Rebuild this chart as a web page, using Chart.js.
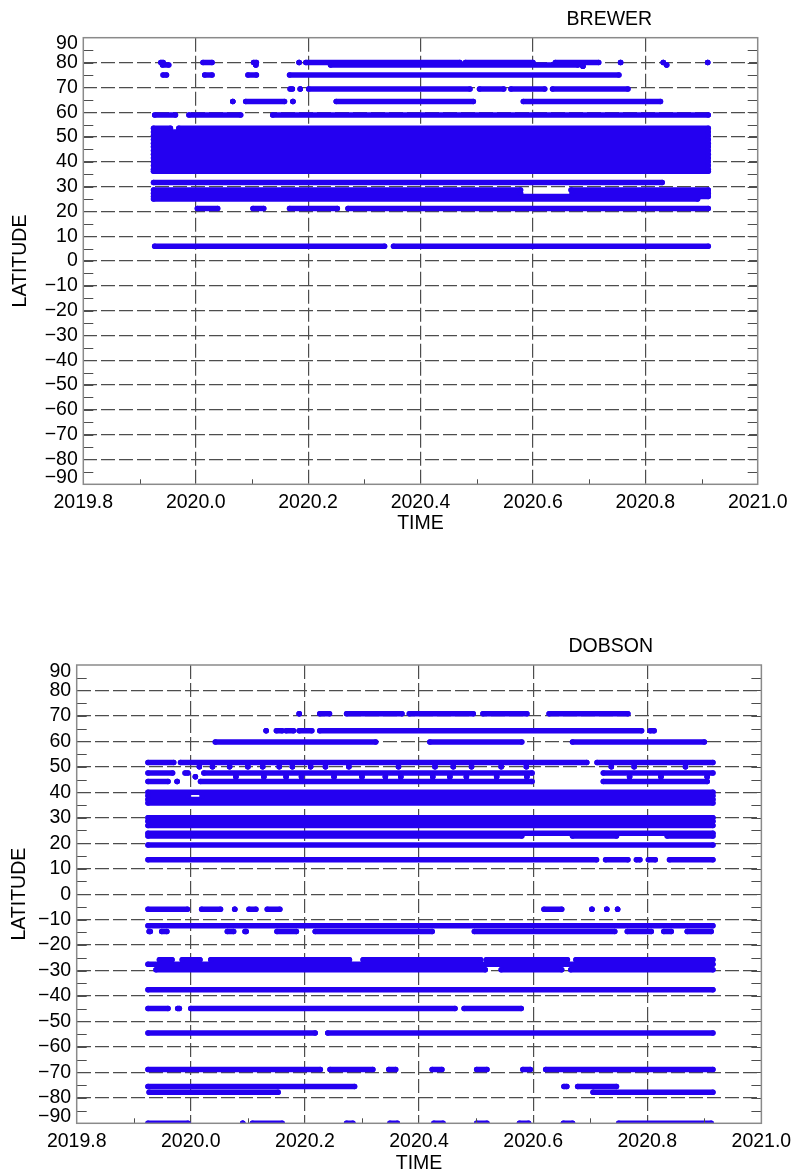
<!DOCTYPE html>
<html>
<head>
<meta charset="utf-8">
<script src="https://cdn.jsdelivr.net/npm/chart.js@4/dist/chart.umd.min.js"></script>
<style>
  html, body { margin: 0; padding: 0; background: #fff; }
  body { width: 798px; height: 1172px; position: relative; overflow: hidden; }
  canvas { position: absolute; left: 0; }
  #brewer { top: 0; }
  #dobson { top: 600px; }
</style>
</head>
<body>
<canvas id="brewer" width="798" height="560"></canvas>
<canvas id="dobson" width="798" height="572"></canvas>
<script>
// ---- axes ----
const timeTicks = [2019.8, 2020.0, 2020.2, 2020.4, 2020.6, 2020.8, 2021.0];
const timeMinorTicks = [2019.9, 2020.1, 2020.3, 2020.5, 2020.7, 2020.9];
const latitudeTicks = [90, 80, 70, 60, 50, 40, 30, 20, 10, 0, -10, -20, -30, -40, -50, -60, -70, -80, -90];
const latitudeMinorTicks = [85, 75, 65, 55, 45, 35, 25, 15, 5, -5, -15, -25, -35, -45, -55, -65, -75, -85];

// ---- Brewer stations: latitude and observing periods [start, end] (decimal year) ----
const brewerLatitudes = [
  80, 79, 78.5, 75, 69.3, 64.3, 58.8,
  53.5, 52, 50.5, 49, 47.5, 46, 44.5, 43, 41.5, 40, 38.5, 37, 36.2,
  31.6, 28.6, 27.3, 26, 25, 21.2, 5.9
];
const brewerSpans = [
  [[2019.938, 2019.942], [2020.013, 2020.029], [2020.103, 2020.108], [2020.184, 2020.184], [2020.196, 2020.47], [2020.48, 2020.6], [2020.64, 2020.717], [2020.756, 2020.756], [2020.832, 2020.832], [2020.911, 2020.911]],
  [[2019.941, 2019.952], [2020.107, 2020.107], [2020.24, 2020.68], [2020.838, 2020.838]],
  [[2020.689, 2020.689]],
  [[2019.942, 2019.948], [2020.016, 2020.029], [2020.093, 2020.108], [2020.167, 2020.753]],
  [[2020.168, 2020.172], [2020.186, 2020.186], [2020.201, 2020.488], [2020.505, 2020.548], [2020.561, 2020.621], [2020.635, 2020.769]],
  [[2020.066, 2020.066], [2020.089, 2020.158], [2020.173, 2020.173], [2020.25, 2020.494], [2020.583, 2020.827]],
  [[2019.927, 2019.964], [2019.988, 2020.08], [2020.137, 2020.912]],
  [[2019.925, 2019.955], [2019.97, 2020.912]],
  [[2019.925, 2020.912]],
  [[2019.925, 2020.912]],
  [[2019.925, 2020.912]],
  [[2019.925, 2020.912]],
  [[2019.925, 2020.912]],
  [[2019.925, 2020.912]],
  [[2019.925, 2020.912]],
  [[2019.925, 2020.912]],
  [[2019.925, 2020.912]],
  [[2019.925, 2020.912]],
  [[2019.925, 2020.912]],
  [[2019.925, 2020.912]],
  [[2019.925, 2020.83]],
  [[2019.925, 2020.578], [2020.668, 2020.912]],
  [[2019.925, 2020.578], [2020.67, 2020.912]],
  [[2019.925, 2020.912]],
  [[2019.925, 2020.893]],
  [[2020.003, 2020.039], [2020.102, 2020.121], [2020.167, 2020.252], [2020.271, 2020.912]],
  [[2019.927, 2020.336], [2020.352, 2020.912]]
];

// ---- Dobson stations ----
const dobsonLatitudes = [
  70.9, 64.2, 59.8, 51.7, 50, 47.6, 46.1, 44.2,
  40, 38.6, 37.2, 35.8, 30, 28.6, 27, 23.9, 22.8, 19.3, 13.5,
  -5.9, -12.4, -14.7, -25.8, -27.5, -29.7, -37.5, -44.9, -54.5,
  -68.9, -75.5, -77.8, -90
];
const dobsonSpans = [
  [[2020.19, 2020.19], [2020.226, 2020.243], [2020.273, 2020.37], [2020.383, 2020.495], [2020.512, 2020.589], [2020.628, 2020.766]],
  [[2020.132, 2020.132], [2020.15, 2020.16], [2020.167, 2020.18], [2020.19, 2020.212], [2020.226, 2020.79], [2020.805, 2020.812]],
  [[2020.043, 2020.324], [2020.419, 2020.58], [2020.669, 2020.9]],
  [[2019.925, 2019.97], [2019.982, 2020.694], [2020.712, 2020.915]],
  [[2020.015, 2020.015], [2020.038, 2020.038], [2020.068, 2020.068], [2020.1, 2020.1], [2020.126, 2020.126], [2020.155, 2020.155], [2020.178, 2020.178], [2020.21, 2020.21], [2020.236, 2020.236], [2020.277, 2020.277], [2020.364, 2020.364], [2020.428, 2020.428], [2020.46, 2020.46], [2020.492, 2020.492], [2020.544, 2020.544], [2020.588, 2020.588], [2020.737, 2020.737], [2020.777, 2020.777], [2020.867, 2020.867]],
  [[2019.925, 2019.968], [2019.99, 2019.995], [2020.023, 2020.598], [2020.723, 2020.915]],
  [[2020.008, 2020.008], [2020.079, 2020.079], [2020.128, 2020.128], [2020.167, 2020.167], [2020.194, 2020.194], [2020.251, 2020.251], [2020.3, 2020.3], [2020.341, 2020.341], [2020.368, 2020.368], [2020.424, 2020.424], [2020.454, 2020.454], [2020.483, 2020.483], [2020.536, 2020.536], [2020.589, 2020.589], [2020.769, 2020.769], [2020.824, 2020.824], [2020.905, 2020.905]],
  [[2019.925, 2019.96], [2019.976, 2019.976], [2020.017, 2020.598], [2020.723, 2020.905]],
  [[2019.925, 2020.915]],
  [[2019.925, 2019.995], [2020.02, 2020.915]],
  [[2019.925, 2020.915]],
  [[2019.925, 2020.915]],
  [[2019.925, 2020.915]],
  [[2019.925, 2020.915]],
  [[2019.925, 2020.915]],
  [[2019.925, 2020.915]],
  [[2019.925, 2020.58], [2020.669, 2020.746], [2020.835, 2020.915]],
  [[2019.925, 2020.915]],
  [[2019.925, 2020.711], [2020.727, 2020.766], [2020.781, 2020.787], [2020.802, 2020.814], [2020.839, 2020.915]],
  [[2019.925, 2019.994], [2020.019, 2020.052], [2020.077, 2020.077], [2020.102, 2020.114], [2020.134, 2020.156], [2020.619, 2020.65], [2020.703, 2020.703], [2020.729, 2020.729], [2020.748, 2020.748]],
  [[2019.925, 2020.915]],
  [[2019.927, 2019.929], [2019.949, 2019.958], [2020.064, 2020.075], [2020.095, 2020.097], [2020.151, 2020.185], [2020.218, 2020.423], [2020.497, 2020.743], [2020.765, 2020.807], [2020.829, 2020.842], [2020.87, 2020.912]],
  [[2019.945, 2019.967], [2019.985, 2020.016], [2020.035, 2020.278], [2020.302, 2020.508], [2020.518, 2020.66], [2020.675, 2020.915]],
  [[2019.925, 2020.915]],
  [[2019.939, 2020.516], [2020.544, 2020.65], [2020.666, 2020.915]],
  [[2019.925, 2020.915]],
  [[2019.925, 2019.96], [2019.977, 2019.98], [2020.0, 2020.463], [2020.479, 2020.579]],
  [[2019.925, 2020.218], [2020.24, 2020.915]],
  [[2019.925, 2020.227], [2020.244, 2020.319], [2020.347, 2020.359], [2020.423, 2020.44], [2020.501, 2020.519], [2020.582, 2020.595], [2020.622, 2020.915]],
  [[2019.925, 2020.287], [2020.654, 2020.659], [2020.678, 2020.746]],
  [[2019.927, 2020.153], [2020.705, 2020.915]],
  [[2019.925, 2019.995], [2020.091, 2020.091], [2020.108, 2020.16], [2020.273, 2020.284], [2020.349, 2020.362], [2020.426, 2020.442], [2020.501, 2020.519], [2020.576, 2020.592], [2020.653, 2020.669], [2020.75, 2020.912]]
];

// ---- styling ----
const FONT_FAMILY = "'Liberation Sans', Arial, Helvetica, sans-serif";
const FONT_SIZE = 19.5;
const INK = 'rgb(36,0,240)';
const DOT = 5.5;
const GRID = '#4d4d4d';

// One dataset per station: each observing period becomes a run of dots
// (a thick line capped by round markers), periods separated by gaps.
function stationDatasets(lats, spans) {
  return lats.map((lat, i) => {
    const data = [];
    spans[i].forEach(([a, b]) => {
      data.push({ x: a, y: lat }, { x: b, y: lat }, { x: b, y: null });
    });
    return {
      data,
      showLine: true,
      spanGaps: false,
      borderColor: INK,
      backgroundColor: INK,
      borderWidth: DOT,
      borderCapStyle: 'round',
      tension: 0,
      pointRadius: DOT / 2,
      pointHoverRadius: DOT / 2,
      pointBorderWidth: 0,
      pointBackgroundColor: INK,
      clip: 0
    };
  });
}

// Frame, inward tick marks, latitude labels and panel title.
const axisDecor = {
  id: 'axisDecor',
  afterDatasetsDraw(chart, args, opts) {
    const { ctx, chartArea: a, scales: { x, y } } = chart;
    ctx.save();
    ctx.strokeStyle = GRID;
    ctx.lineWidth = 1;
    ctx.beginPath();
    latitudeTicks.concat(latitudeMinorTicks).forEach(v => {
      if (Math.abs(v) === 90) return;
      const py = Math.round(y.getPixelForValue(v)) + 0.5;
      ctx.moveTo(a.left, py); ctx.lineTo(a.left + 10, py);
      ctx.moveTo(a.right, py); ctx.lineTo(a.right - 10, py);
    });
    timeMinorTicks.forEach(v => {
      const px = Math.round(x.getPixelForValue(v)) + 0.5;
      ctx.moveTo(px, a.bottom); ctx.lineTo(px, a.bottom - 5);
    });
    ctx.stroke();

    ctx.strokeStyle = '#8a8a8a';
    ctx.lineWidth = 1.5;
    ctx.strokeRect(a.left, a.top, a.right - a.left, a.bottom - a.top);

    ctx.fillStyle = '#000';
    ctx.font = FONT_SIZE + 'px ' + FONT_FAMILY;
    ctx.textAlign = 'right';
    ctx.textBaseline = 'middle';
    latitudeTicks.forEach(v => {
      let py = y.getPixelForValue(v);
      if (v === 90) py += 6.3;
      if (v === -90) py -= 6.3;
      ctx.fillText(v < 0 ? '\u2212' + Math.abs(v) : String(v), a.left - 5.5, py);
    });

    ctx.textAlign = 'center';
    ctx.fillText(opts.text, a.left + 0.78 * (a.right - a.left), a.top - 18);
    ctx.restore();
  }
};

function isEdge(ctx, lo, hi) {
  return ctx.tick && (Math.abs(ctx.tick.value - lo) < 1e-6 || Math.abs(ctx.tick.value - hi) < 1e-6);
}

function makeChart(id, name, lats, spans, geo) {
  const tickFont = { family: FONT_FAMILY, size: FONT_SIZE };
  const titleFont = { family: FONT_FAMILY, size: FONT_SIZE, lineHeight: 0.8 };
  return new Chart(document.getElementById(id), {
    type: 'scatter',
    data: { datasets: stationDatasets(lats, spans) },
    plugins: [axisDecor],
    options: {
      responsive: false,
      animation: false,
      devicePixelRatio: 1,
      events: [],
      layout: { padding: { top: geo.top, right: geo.right, left: 0, bottom: 0 } },
      plugins: {
        legend: { display: false },
        tooltip: { enabled: false },
        axisDecor: { text: name }
      },
      scales: {
        x: {
          type: 'linear',
          min: timeTicks[0],
          max: timeTicks[timeTicks.length - 1],
          afterBuildTicks: s => { s.ticks = timeTicks.map(value => ({ value })); },
          afterFit: s => { s.height = geo.xHeight; },
          grid: {
            color: c => isEdge(c, timeTicks[0], timeTicks[timeTicks.length - 1]) ? 'rgba(0,0,0,0)' : GRID,
            lineWidth: 1.2,
            drawTicks: false
          },
          border: { display: false, dash: [14, 4] },
          ticks: {
            callback: v => Number(v).toFixed(1),
            font: tickFont,
            color: '#000',
            padding: geo.xPad,
            maxRotation: 0,
            autoSkip: false
          },
          title: {
            display: true,
            text: 'TIME',
            font: titleFont,
            color: '#000',
            padding: { top: 0, bottom: geo.timePad }
          }
        },
        y: {
          type: 'linear',
          min: -90,
          max: 90,
          afterBuildTicks: s => { s.ticks = latitudeTicks.map(value => ({ value })); },
          afterFit: s => { s.width = geo.yWidth; },
          grid: {
            color: c => isEdge(c, -90, 90) ? 'rgba(0,0,0,0)' : GRID,
            lineWidth: 1.2,
            drawTicks: false
          },
          border: { display: false, dash: [14, 4] },
          ticks: { display: false },
          title: {
            display: true,
            text: 'LATITUDE',
            font: titleFont,
            color: '#000',
            padding: { top: geo.latPad, bottom: 0 }
          }
        }
      }
    }
  });
}

makeChart('brewer', 'BREWER', brewerLatitudes, brewerSpans,
  { top: 37.7, right: 40.3, yWidth: 83.3, xHeight: 75.7, xPad: 7, timePad: 28.9, latPad: 13 });
makeChart('dobson', 'DOBSON', dobsonLatitudes, dobsonSpans,
  { top: 65, right: 32.5, yWidth: 76.7, xHeight: 48.7, xPad: 6.8, timePad: 0.9, latPad: 12.2 });
</script>
</body>
</html>
